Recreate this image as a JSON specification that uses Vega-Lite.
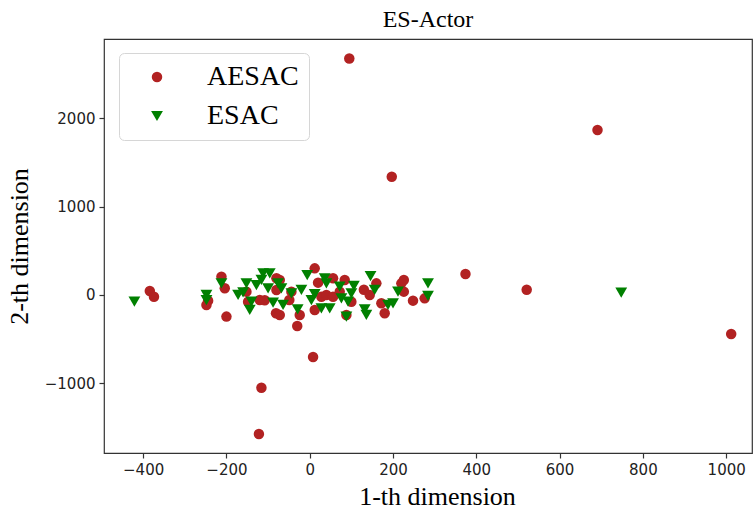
{
  "$schema": "https://vega.github.io/schema/vega-lite/v6.json",
  "width": 648,
  "height": 414,
  "autosize": {"type": "none"},
  "padding": {"left": 104, "top": 39, "right": 1, "bottom": 57},
  "background": "white",
  "config": {
    "view": {"stroke": "#333333", "strokeWidth": 1.2},
    "axis": {"grid": false, "domain": false, "tickColor": "#333333", "tickSize": 5, "tickWidth": 1.2,
      "labelFont": "DejaVu Sans", "labelFontSize": 15, "labelColor": "#222222", "labelPadding": 4,
      "titleFont": "Liberation Serif", "titleFontSize": 26, "titleFontWeight": "normal", "titleColor": "#000000"}
  },
  "title": {"text": "ES-Actor", "font": "Liberation Serif", "fontSize": 24, "fontWeight": "normal", "color": "#000000", "offset": 7},
  "data": {"values": [
    {"x": 95, "y": 2680, "s": "AESAC"},
    {"x": 691, "y": 1869, "s": "AESAC"},
    {"x": 197, "y": 1340, "s": "AESAC"},
    {"x": 374, "y": 238, "s": "AESAC"},
    {"x": 521, "y": 60, "s": "AESAC"},
    {"x": 1012, "y": -442, "s": "AESAC"},
    {"x": 8, "y": -702, "s": "AESAC"},
    {"x": -116, "y": -1050, "s": "AESAC"},
    {"x": -122, "y": -1574, "s": "AESAC"},
    {"x": -384, "y": 45, "s": "AESAC"},
    {"x": -374, "y": -19, "s": "AESAC"},
    {"x": -212, "y": 207, "s": "AESAC"},
    {"x": -204, "y": 76, "s": "AESAC"},
    {"x": -244, "y": -64, "s": "AESAC"},
    {"x": -248, "y": -113, "s": "AESAC"},
    {"x": -200, "y": -245, "s": "AESAC"},
    {"x": -152, "y": 38, "s": "AESAC"},
    {"x": -148, "y": -76, "s": "AESAC"},
    {"x": -120, "y": -57, "s": "AESAC"},
    {"x": -108, "y": -60, "s": "AESAC"},
    {"x": -80, "y": 189, "s": "AESAC"},
    {"x": -72, "y": 170, "s": "AESAC"},
    {"x": -80, "y": 57, "s": "AESAC"},
    {"x": -81, "y": -207, "s": "AESAC"},
    {"x": -72, "y": -226, "s": "AESAC"},
    {"x": -44, "y": 38, "s": "AESAC"},
    {"x": -49, "y": -57, "s": "AESAC"},
    {"x": -30, "y": -351, "s": "AESAC"},
    {"x": -24, "y": -226, "s": "AESAC"},
    {"x": 12, "y": 302, "s": "AESAC"},
    {"x": 20, "y": 140, "s": "AESAC"},
    {"x": 12, "y": -170, "s": "AESAC"},
    {"x": 28, "y": -20, "s": "AESAC"},
    {"x": 40, "y": 0, "s": "AESAC"},
    {"x": 56, "y": 189, "s": "AESAC"},
    {"x": 56, "y": -19, "s": "AESAC"},
    {"x": 84, "y": 170, "s": "AESAC"},
    {"x": 88, "y": -226, "s": "AESAC"},
    {"x": 100, "y": -76, "s": "AESAC"},
    {"x": 72, "y": 38, "s": "AESAC"},
    {"x": 130, "y": 60, "s": "AESAC"},
    {"x": 144, "y": 0, "s": "AESAC"},
    {"x": 160, "y": 132, "s": "AESAC"},
    {"x": 172, "y": -94, "s": "AESAC"},
    {"x": 180, "y": -207, "s": "AESAC"},
    {"x": 220, "y": 132, "s": "AESAC"},
    {"x": 226, "y": 170, "s": "AESAC"},
    {"x": 226, "y": 38, "s": "AESAC"},
    {"x": 248, "y": -64, "s": "AESAC"},
    {"x": 276, "y": -38, "s": "AESAC"},
    {"x": -421, "y": -76, "s": "ESAC"},
    {"x": 748, "y": 26, "s": "ESAC"},
    {"x": -248, "y": 0, "s": "ESAC"},
    {"x": -248, "y": -57, "s": "ESAC"},
    {"x": -212, "y": 132, "s": "ESAC"},
    {"x": -172, "y": 0, "s": "ESAC"},
    {"x": -152, "y": 132, "s": "ESAC"},
    {"x": -160, "y": 30, "s": "ESAC"},
    {"x": -144, "y": -170, "s": "ESAC"},
    {"x": -140, "y": -76, "s": "ESAC"},
    {"x": -128, "y": 113, "s": "ESAC"},
    {"x": -112, "y": 245, "s": "ESAC"},
    {"x": -96, "y": 245, "s": "ESAC"},
    {"x": -116, "y": 170, "s": "ESAC"},
    {"x": -100, "y": 76, "s": "ESAC"},
    {"x": -76, "y": 132, "s": "ESAC"},
    {"x": -68, "y": 76, "s": "ESAC"},
    {"x": -88, "y": -87, "s": "ESAC"},
    {"x": -64, "y": -113, "s": "ESAC"},
    {"x": -44, "y": 19, "s": "ESAC"},
    {"x": -20, "y": 57, "s": "ESAC"},
    {"x": -29, "y": -162, "s": "ESAC"},
    {"x": -6, "y": 226, "s": "ESAC"},
    {"x": 4, "y": -57, "s": "ESAC"},
    {"x": 12, "y": 11, "s": "ESAC"},
    {"x": 28, "y": -151, "s": "ESAC"},
    {"x": 36, "y": 189, "s": "ESAC"},
    {"x": 40, "y": 132, "s": "ESAC"},
    {"x": 48, "y": -151, "s": "ESAC"},
    {"x": 72, "y": 94, "s": "ESAC"},
    {"x": 76, "y": -38, "s": "ESAC"},
    {"x": 88, "y": -245, "s": "ESAC"},
    {"x": 92, "y": -76, "s": "ESAC"},
    {"x": 106, "y": 102, "s": "ESAC"},
    {"x": 100, "y": 19, "s": "ESAC"},
    {"x": 132, "y": -162, "s": "ESAC"},
    {"x": 136, "y": -226, "s": "ESAC"},
    {"x": 146, "y": 215, "s": "ESAC"},
    {"x": 156, "y": 57, "s": "ESAC"},
    {"x": 188, "y": -113, "s": "ESAC"},
    {"x": 200, "y": -94, "s": "ESAC"},
    {"x": 212, "y": 38, "s": "ESAC"},
    {"x": 284, "y": 132, "s": "ESAC"},
    {"x": 284, "y": -11, "s": "ESAC"}
  ]},
  "mark": {"type": "point", "filled": true, "opacity": 1, "strokeWidth": 0},
  "encoding": {
    "x": {"field": "x", "type": "quantitative",
      "scale": {"domain": [-494, 1062], "nice": false, "zero": false},
      "axis": {"values": [-400, -200, 0, 200, 400, 600, 800, 1000], "format": "d", "title": "1-th dimension", "titlePadding": 6, "titleX": 333}},
    "y": {"field": "y", "type": "quantitative",
      "scale": {"domain": [-1790, 2900], "nice": false, "zero": false},
      "axis": {"values": [-1000, 0, 1000, 2000], "format": "d", "title": "2-th dimension", "titlePadding": 12}},
    "color": {"field": "s", "type": "nominal",
      "scale": {"domain": ["AESAC", "ESAC"], "range": ["#b22222", "#008000"]},
      "legend": {"title": null, "orient": "none", "legendX": 15, "legendY": 14,
        "labelFont": "Liberation Serif", "labelFontSize": 28, "labelColor": "#000000",
        "labelOffset": 36, "symbolOffset": 14, "symbolSize": 125, "rowPadding": 11,
        "padding": 10, "strokeColor": "#d6d6d6", "fillColor": "white", "cornerRadius": 5}},
    "shape": {"field": "s", "type": "nominal",
      "scale": {"domain": ["AESAC", "ESAC"], "range": ["circle", "triangle-down"]}},
    "size": {"field": "s", "type": "nominal",
      "scale": {"domain": ["AESAC", "ESAC"], "range": [110, 140]}, "legend": null}
  }
}
